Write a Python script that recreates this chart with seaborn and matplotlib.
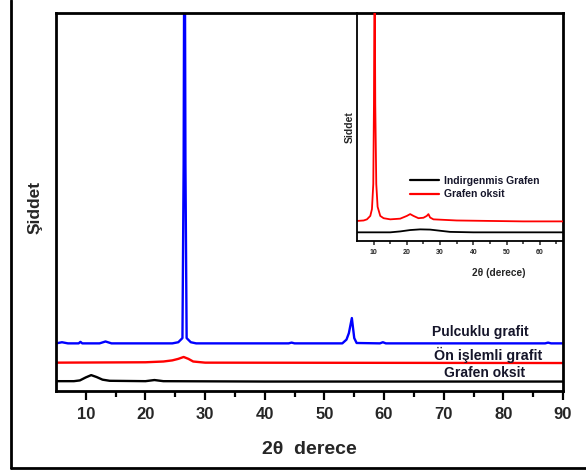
import matplotlib
matplotlib.use("Agg")
import matplotlib.pyplot as plt
from matplotlib.lines import Line2D
import seaborn as sns
import pandas as pd

# ---- main chart data (2theta, intensity a.u.) ----
go_x = [5, 8, 9, 10, 10.9, 11.8, 12.8, 14, 20, 21.5, 23, 40, 90]
go_y = [2.6, 2.6, 2.8, 3.6, 4.2, 3.7, 3.0, 2.7, 2.6, 2.9, 2.6, 2.5, 2.5]

pre_x = [5, 20, 23, 24.5, 25.5, 26.4, 27.2, 28, 30, 90]
pre_y = [7.5, 7.6, 7.8, 8.1, 8.5, 9.0, 8.5, 7.8, 7.5, 7.4]

flake_x = [5, 6, 7, 8.8, 9.1, 9.4, 12.3, 13.3, 14.3, 24.5, 25.5, 26.2, 26.4, 26.55,
           26.7, 26.9, 27.6, 28.5, 44, 44.5, 45, 53, 53.7, 54.1, 54.6, 55.0, 55.4,
           59.3, 59.8, 60.3, 87, 87.5, 88, 90]
flake_y = [12.6, 12.9, 12.6, 12.6, 13.0, 12.6, 12.6, 13.1, 12.6, 12.6, 12.9, 14, 60, 150,
           60, 14, 12.9, 12.6, 12.6, 12.8, 12.6, 12.6, 13.6, 15.3, 19.3, 14, 12.7,
           12.6, 12.9, 12.6, 12.6, 12.8, 12.6, 12.6]

main_labels = ["Pulcuklu grafit", "Ön işlemli grafit", "Grafen oksit"]
main_ticks = [10, 20, 30, 40, 50, 60, 70, 80, 90]

# ---- inset data ----
rg_x = [5, 15, 18, 21, 24, 27, 30, 33, 40, 67]
rg_y = [3.8, 3.8, 4.2, 4.8, 5.1, 5.0, 4.5, 4.0, 3.8, 3.8]

gox_x = [5, 7, 8, 9, 9.5, 9.9, 10.1, 10.3, 10.5, 10.8, 11.2, 12, 13, 15, 18, 20, 21,
         22, 23.5, 25, 26, 26.5, 27, 28, 35, 45, 55, 67]
gox_y = [8.8, 9.0, 9.5, 11, 14, 25, 60, 130, 60, 25, 15, 11, 10, 9.5, 9.8, 11, 11.8,
         11, 10, 10.2, 11, 11.8, 10.3, 9.5, 9.0, 8.8, 8.6, 8.6]

inset_labels = ["Indirgenmis Grafen", "Grafen oksit"]
inset_ticks = [10, 20, 30, 40, 50, 60]

sns.set_theme(style="ticks")
plt.rcParams["font.family"] = ["Liberation Sans", "DejaVu Sans"]
plt.rcParams["font.weight"] = "bold"

fig = plt.figure(figsize=(5.86, 4.74), dpi=100)
ax = fig.add_axes([56 / 586, 1 - 391 / 474, (563 - 56) / 586, (391 - 13) / 474])

df_main = pd.concat([
    pd.DataFrame({"x": flake_x, "y": flake_y, "s": main_labels[0]}),
    pd.DataFrame({"x": pre_x, "y": pre_y, "s": main_labels[1]}),
    pd.DataFrame({"x": go_x, "y": go_y, "s": main_labels[2]}),
])
sns.lineplot(data=df_main, x="x", y="y", hue="s", estimator=None, sort=False,
             palette={main_labels[0]: "#0000ff", main_labels[1]: "#ff0000",
                      main_labels[2]: "#000000"},
             linewidth=1.7, legend=False, ax=ax)
ax.set_xlim(5, 90)
ax.set_ylim(0, 100)
ax.set_yticks([])
ax.set_xticks(main_ticks)
ax.set_xticks([15, 25, 35, 45, 55, 65, 75, 85], minor=True)
ax.tick_params(axis="x", which="major", length=6.5, width=1.6, direction="out",
               labelsize=12, pad=5, color="black")
ax.tick_params(axis="x", which="minor", length=4.3, width=1.6, direction="out",
               color="black")
for lab in ax.get_xticklabels():
    lab.set_fontweight("bold")
for sp in ax.spines.values():
    sp.set_visible(True)
    sp.set_linewidth(2.0)
    sp.set_color("black")
ax.set_xlabel("")
ax.set_ylabel("")
fig.text(309 / 586, 1 - 450 / 474, "2θ  derece", ha="center", va="center",
         fontsize=14, fontweight="bold")
fig.text(35 / 586, 1 - 207 / 474, "Şiddet", ha="center", va="center",
         rotation=90, fontsize=12.5, fontweight="bold")

txt_color = "#15152a"
ax.text(76.2, 15.6, main_labels[0], ha="center", va="center", fontsize=10,
        fontweight="bold", color=txt_color)
ax.text(77.5, 9.5, main_labels[1], ha="center", va="center", fontsize=10.3,
        fontweight="bold", color=txt_color)
ax.text(76.8, 4.8, main_labels[2], ha="center", va="center", fontsize=10,
        fontweight="bold", color=txt_color)

# ---- inset ----
ins = fig.add_axes([357 / 586, 1 - 241 / 474, (563 - 357) / 586, (241 - 13) / 474])
ins.set_facecolor("none")
df_in = pd.concat([
    pd.DataFrame({"x": rg_x, "y": rg_y, "s": inset_labels[0]}),
    pd.DataFrame({"x": gox_x, "y": gox_y, "s": inset_labels[1]}),
])
sns.lineplot(data=df_in, x="x", y="y", hue="s", estimator=None, sort=False,
             palette={inset_labels[0]: "#000000", inset_labels[1]: "#ff0000"},
             linewidth=1.3, ax=ins)
ins.set_xlim(5, 67)
ins.set_ylim(0, 100)
ins.set_yticks([])
ins.set_xticks(inset_ticks)
ins.set_xticks([15, 25, 35, 45, 55, 65], minor=True)
ins.tick_params(axis="x", which="major", length=3, width=1.1, direction="out",
                labelsize=5, pad=2.5)
ins.tick_params(axis="x", which="minor", length=2, width=1.1, direction="out")
for lab in ins.get_xticklabels():
    lab.set_fontweight("bold")
ins.spines["top"].set_visible(False)
ins.spines["right"].set_visible(False)
ins.spines["left"].set_linewidth(1.3)
ins.spines["bottom"].set_linewidth(1.3)
ins.spines["left"].set_color("black")
ins.spines["bottom"].set_color("black")
ins.set_xlabel("")
ins.set_ylabel("")
ins.text(0.69, -0.14, "2θ (derece)", transform=ins.transAxes, ha="center",
         va="center", fontsize=7.3, fontweight="bold")
ins.text(-0.034, 0.5, "Siddet", transform=ins.transAxes, ha="center",
         va="center", rotation=90, fontsize=7.5, fontweight="bold")
leg = ins.legend(loc="center left", bbox_to_anchor=(0.257, 0.235), frameon=False,
                 fontsize=7.5, handlelength=2.8, handletextpad=0.5,
                 labelspacing=0.35, borderpad=0, borderaxespad=0)
for t in leg.get_texts():
    t.set_fontweight("bold")
    t.set_color("#15152a")
for h in leg.legend_handles:
    h.set_linewidth(1.6)

# outer border (left and bottom edges of the framed picture)
fig.add_artist(Line2D([11 / 586, 11 / 586], [1.0, 1 - 468 / 474],
                      transform=fig.transFigure, color="black", linewidth=2))
fig.add_artist(Line2D([11 / 586, 1.0], [1 - 468 / 474, 1 - 468 / 474],
                      transform=fig.transFigure, color="black", linewidth=2))

fig.savefig("out.png", dpi=100, facecolor="white")
